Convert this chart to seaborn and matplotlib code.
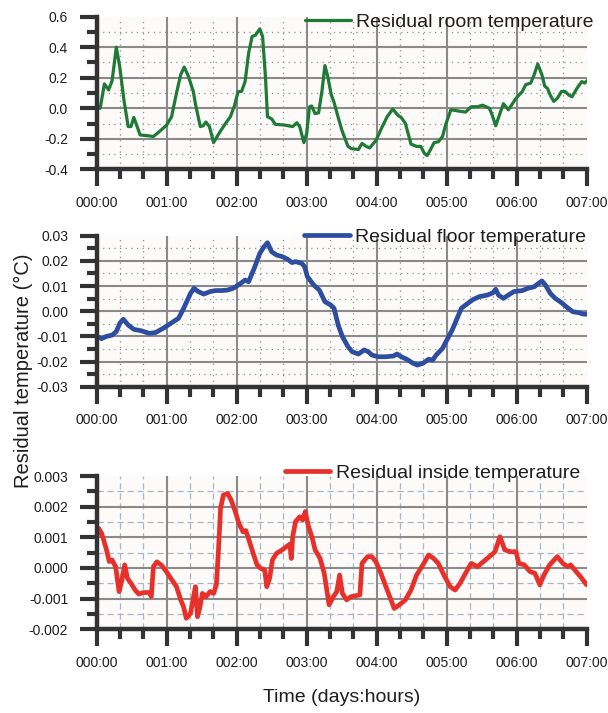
import matplotlib
matplotlib.use("Agg")
import matplotlib.pyplot as plt
import numpy as np
import pandas as pd
import seaborn as sns
from matplotlib.ticker import FixedLocator, FormatStrFormatter

# ---------------- data (time in days) ----------------
day_ticks = [0, 1, 2, 3, 4, 5, 6, 7]
day_labels = ["000:00", "001:00", "002:00", "003:00", "004:00", "005:00", "006:00", "007:00"]

room_days = [0.00, 0.05, 0.11, 0.17, 0.22, 0.28, 0.33, 0.39, 0.45, 0.49, 0.53, 0.57, 0.62, 0.73, 0.81,
             0.89, 1.00, 1.07, 1.14, 1.20, 1.25, 1.31, 1.38, 1.41, 1.48, 1.52, 1.56, 1.61, 1.67, 1.76,
             1.84, 1.91, 1.97, 2.02, 2.07, 2.12, 2.17, 2.22, 2.27, 2.33, 2.37, 2.41, 2.44, 2.50, 2.55,
             2.68, 2.80, 2.86, 2.90, 2.96, 3.00, 3.04, 3.07, 3.12, 3.17, 3.22, 3.26, 3.30, 3.35, 3.39,
             3.45, 3.50, 3.54, 3.59, 3.64, 3.74, 3.79, 3.85, 3.90, 3.99, 4.07, 4.15, 4.23, 4.30, 4.35,
             4.41, 4.49, 4.57, 4.63, 4.68, 4.72, 4.77, 4.82, 4.88, 4.94, 4.99, 5.06, 5.13, 5.19, 5.27,
             5.35, 5.44, 5.51, 5.61, 5.65, 5.70, 5.76, 5.81, 5.88, 5.94, 5.99, 6.08, 6.13, 6.20, 6.25,
             6.30, 6.36, 6.40, 6.44, 6.48, 6.53, 6.58, 6.64, 6.69, 6.75, 6.79, 6.86, 6.93, 6.97, 7.00]
room_vals = [0.00, 0.00, 0.16, 0.12, 0.18, 0.40, 0.27, 0.05, -0.12, -0.12, -0.06, -0.11, -0.175, -0.18, -0.185,
             -0.155, -0.11, -0.055, 0.10, 0.22, 0.27, 0.21, 0.11, 0.03, -0.12, -0.115, -0.09, -0.12, -0.225, -0.155,
             -0.10, -0.055, 0.02, 0.11, 0.11, 0.175, 0.36, 0.47, 0.48, 0.52, 0.47, 0.21, -0.055, -0.07, -0.105,
             -0.11, -0.12, -0.095, -0.12, -0.225, -0.165, 0.01, 0.015, -0.035, -0.03, 0.12, 0.28, 0.21, 0.09, 0.04,
             -0.06, -0.14, -0.19, -0.25, -0.265, -0.27, -0.23, -0.25, -0.26, -0.21, -0.13, -0.055, -0.005, -0.045, -0.06,
             -0.10, -0.235, -0.25, -0.25, -0.295, -0.31, -0.27, -0.225, -0.22, -0.185, -0.10, -0.01, -0.015, -0.02, -0.025,
             0.01, 0.01, 0.02, 0.00, -0.045, -0.115, -0.035, 0.03, -0.01, 0.03, 0.065, 0.11, 0.155, 0.165, 0.22,
             0.29, 0.22, 0.145, 0.13, 0.085, 0.045, 0.065, 0.11, 0.11, 0.085, 0.075, 0.13, 0.175, 0.165, 0.18]

floor_days = [0.00, 0.07, 0.14, 0.22, 0.28, 0.33, 0.38, 0.45, 0.53, 0.64, 0.75, 0.84, 0.95, 1.06, 1.17,
              1.25, 1.34, 1.39, 1.45, 1.53, 1.62, 1.70, 1.78, 1.87, 1.95, 2.04, 2.12, 2.17, 2.26, 2.33,
              2.39, 2.44, 2.50, 2.57, 2.65, 2.73, 2.79, 2.84, 2.93, 2.97, 3.01, 3.10, 3.18, 3.26, 3.34,
              3.39, 3.45, 3.51, 3.59, 3.65, 3.74, 3.82, 3.88, 3.93, 4.02, 4.13, 4.24, 4.29, 4.35, 4.43,
              4.52, 4.58, 4.66, 4.74, 4.80, 4.85, 4.94, 4.99, 5.08, 5.16, 5.21, 5.30, 5.38, 5.47, 5.58,
              5.66, 5.70, 5.74, 5.81, 5.88, 5.96, 6.08, 6.16, 6.25, 6.30, 6.36, 6.41, 6.48, 6.55, 6.64,
              6.72, 6.80, 6.89, 6.94, 7.00]
floor_vals = [-0.0101, -0.0109, -0.0100, -0.0095, -0.0081, -0.0048, -0.0032, -0.0055, -0.0072, -0.0078, -0.0088, -0.0085, -0.0068, -0.0048, -0.0028,
              0.0016, 0.0071, 0.0091, 0.0078, 0.0068, 0.0078, 0.0082, 0.0082, 0.0084, 0.0091, 0.0107, 0.0124, 0.0117, 0.0177, 0.0230,
              0.0256, 0.0272, 0.0236, 0.0223, 0.0217, 0.0206, 0.0193, 0.0197, 0.0190, 0.0177, 0.0137, 0.0104, 0.0084, 0.0038, 0.0025,
              0.0012, -0.0055, -0.0101, -0.0141, -0.0161, -0.0170, -0.0154, -0.0161, -0.0174, -0.0181, -0.0181, -0.0178, -0.0170, -0.0181, -0.0191,
              -0.0207, -0.0214, -0.0207, -0.0191, -0.0194, -0.0174, -0.0148, -0.0121, -0.0074, -0.0021, 0.0012, 0.0031, 0.0047, 0.0058, 0.0064,
              0.0073, 0.0087, 0.0064, 0.0051, 0.0064, 0.0078, 0.0082, 0.0091, 0.0097, 0.0108, 0.0120, 0.0104, 0.0071, 0.0051, 0.0034,
              0.0015, -0.0002, -0.0006, -0.0011, -0.0012]

inside_days = [0.00, 0.03, 0.07, 0.10, 0.14, 0.18, 0.22, 0.27, 0.32, 0.36, 0.40, 0.44, 0.49, 0.55, 0.60,
               0.67, 0.75, 0.78, 0.81, 0.86, 0.92, 0.98, 1.06, 1.14, 1.20, 1.24, 1.28, 1.34, 1.38, 1.41,
               1.44, 1.47, 1.51, 1.56, 1.62, 1.67, 1.71, 1.74, 1.77, 1.81, 1.87, 1.92, 1.98, 2.03, 2.09,
               2.13, 2.16, 2.22, 2.29, 2.34, 2.40, 2.43, 2.47, 2.51, 2.57, 2.65, 2.76, 2.78, 2.80, 2.84,
               2.90, 2.94, 2.98, 3.02, 3.08, 3.12, 3.19, 3.25, 3.32, 3.38, 3.43, 3.47, 3.51, 3.57, 3.63,
               3.71, 3.76, 3.79, 3.87, 3.93, 3.99, 4.06, 4.15, 4.25, 4.32, 4.41, 4.49, 4.57, 4.66, 4.74,
               4.81, 4.88, 4.96, 5.05, 5.12, 5.19, 5.27, 5.35, 5.44, 5.52, 5.61, 5.69, 5.76, 5.83, 5.91,
               5.99, 6.03, 6.11, 6.19, 6.26, 6.33, 6.39, 6.47, 6.58, 6.66, 6.73, 6.77, 6.85, 6.91, 7.00]
inside_vals = [0.00102, 0.00129, 0.00113, 0.00091, 0.00059, 0.00021, 0.00026, 0.00004, -0.00077, -0.00039, 0.00010, -0.00034, -0.00050, -0.00072, -0.00085,
               -0.00080, -0.00080, -0.00093, 0.00004, 0.00020, 0.00010, -0.00007, -0.00034, -0.00061, -0.00104, -0.00126, -0.00164, -0.00148, -0.00099, -0.00061,
               -0.00159, -0.00132, -0.00083, -0.00094, -0.00077, -0.00083, -0.00055, 0.00059, 0.00195, 0.00238, 0.00243, 0.00222, 0.00184, 0.00146, 0.00118,
               0.00122, 0.00102, 0.00059, 0.00010, -0.00001, -0.00007, -0.00061, -0.00034, 0.00026, 0.00048, 0.00059, 0.00078, 0.00031, 0.00102, 0.00151,
               0.00167, 0.00157, 0.00184, 0.00140, 0.00097, 0.00059, 0.00032, -0.00017, -0.00120, -0.00094, -0.00077, -0.00023, -0.00083, -0.00104, -0.00094,
               -0.00090, -0.00088, 0.00015, 0.00037, 0.00037, 0.00020, -0.00017, -0.00072, -0.00132, -0.00121, -0.00104, -0.00072, -0.00023, 0.00010, 0.00042,
               0.00032, 0.00015, -0.00023, -0.00061, -0.00072, -0.00050, -0.00017, 0.00015, 0.00004, 0.00020, 0.00037, 0.00053, 0.00102, 0.00059, 0.00053,
               0.00053, 0.00015, 0.00010, -0.00012, -0.00017, -0.00055, -0.00023, 0.00010, 0.00037, 0.00015, 0.00004, 0.00010, -0.00012, -0.00028, -0.00055]

room_label = "Residual room temperature"
floor_label = "Residual floor temperature"
inside_label = "Residual inside temperature"

# ---------------- style ----------------
sns.set_style("white")
plt.rcParams["font.family"] = ["Liberation Sans", "DejaVu Sans"]
plt.rcParams["axes.unicode_minus"] = False

W, H = 608, 713
fig = plt.figure(figsize=(W / 100, H / 100), dpi=100)

DARK = "#333333"
TXT = "#1e1e1e"

panels = [
    dict(days=room_days, vals=room_vals, label=room_label, color="#1f7a35", lw=2.3,
         top=16.7, bot=169.3, ylim=(-0.4, 0.6), ystep=0.2, fmt="%.1f", minor_ls=(0, (1, 3.5)),
         minor_col="#8f8f8f", leg_right=594, leg_y=21.7),
    dict(days=floor_days, vals=floor_vals, label=floor_label, color="#2d4ea0", lw=3.4,
         top=235.7, bot=386.7, ylim=(-0.03, 0.03), ystep=0.01, fmt="%.2f", minor_ls=(0, (1, 3.5)),
         minor_col="#8f8f8f", leg_right=586, leg_y=236.7),
    dict(days=inside_days, vals=inside_vals, label=inside_label, color="#e8302a", lw=3.4,
         top=476.0, bot=629.3, ylim=(-0.002, 0.003), ystep=0.001, fmt="%.3f", minor_ls=(0, (5, 3)),
         minor_col="#aab6c2", leg_right=580, leg_y=473.0),
]

left_px, right_px = 96.7, 586.7
for p in panels:
    ax = fig.add_axes([left_px / W, 1 - p["bot"] / H, (right_px - left_px) / W, (p["bot"] - p["top"]) / H])
    ax.set_facecolor("#fdfafa")
    df = pd.DataFrame({"day": p["days"], "value": p["vals"]})
    sns.lineplot(data=df, x="day", y="value", ax=ax, color=p["color"], linewidth=p["lw"],
                 label=p["label"], estimator=None, sort=False, zorder=5)

    y0, y1 = p["ylim"]
    step = p["ystep"]
    nmaj = int(round((y1 - y0) / step))
    yt = [y0 + i * step for i in range(nmaj + 1)]
    ymin = [y0 + (i + 0.5) * step for i in range(nmaj)]
    xminor = [d + f for d in range(7) for f in (1 / 3, 2 / 3)]

    # grid (styling only)
    for v in yt[1:-1]:
        ax.axhline(v, color="#8a8a8a", lw=1.5, zorder=1)
    for d in day_ticks[1:-1]:
        ax.axvline(d, color="#8a8a8a", lw=1.5, zorder=1)
    for v in ymin:
        ax.axhline(v, color=p["minor_col"], lw=0.9, ls=p["minor_ls"], zorder=0.5)
    for d in xminor:
        ax.axvline(d, color=p["minor_col"], lw=0.9, ls=p["minor_ls"], zorder=0.5)

    ax.set_xlim(0, 7)
    ax.set_ylim(y0, y1)
    ax.xaxis.set_major_locator(FixedLocator(day_ticks))
    ax.set_xticklabels(day_labels)
    ax.xaxis.set_minor_locator(FixedLocator(xminor))
    ax.yaxis.set_major_locator(FixedLocator(yt))
    ax.yaxis.set_minor_locator(FixedLocator(ymin))
    ax.yaxis.set_major_formatter(FormatStrFormatter(p["fmt"]))

    ax.tick_params(axis="both", which="major", length=12.5, width=3.0, color=DARK,
                   direction="out", labelsize=10, labelcolor=TXT)
    ax.tick_params(axis="both", which="minor", length=7.5, width=3.0, color=DARK, direction="out")
    ax.tick_params(axis="x", which="major", pad=6.5)
    ax.tick_params(axis="y", which="major", pad=8)
    ax.tick_params(bottom=True, left=True, which="both")

    for s in ("top", "right"):
        ax.spines[s].set_visible(False)
    for s in ("left", "bottom"):
        ax.spines[s].set_linewidth(3.2)
        ax.spines[s].set_color(DARK)
        ax.spines[s].set_zorder(6)
    ax.set_xlabel("")
    ax.set_ylabel("")

    leg = ax.legend(loc="center right",
                    bbox_to_anchor=(p["leg_right"] / W, 1 - p["leg_y"] / H),
                    bbox_transform=fig.transFigure, frameon=False, borderpad=0,
                    borderaxespad=0, handlelength=2.35, handletextpad=0.28, fontsize=14)
    for t in leg.get_texts():
        t.set_color(TXT)

fig.text(23 / W, 1 - 371 / H, "Residual temperature (°C)", rotation=90, ha="center", va="center",
         fontsize=14.5, color=TXT)
fig.text(342 / W, 1 - 697 / H, "Time (days:hours)", ha="center", va="center", fontsize=14, color=TXT)

fig.savefig("out.png", dpi=100)
